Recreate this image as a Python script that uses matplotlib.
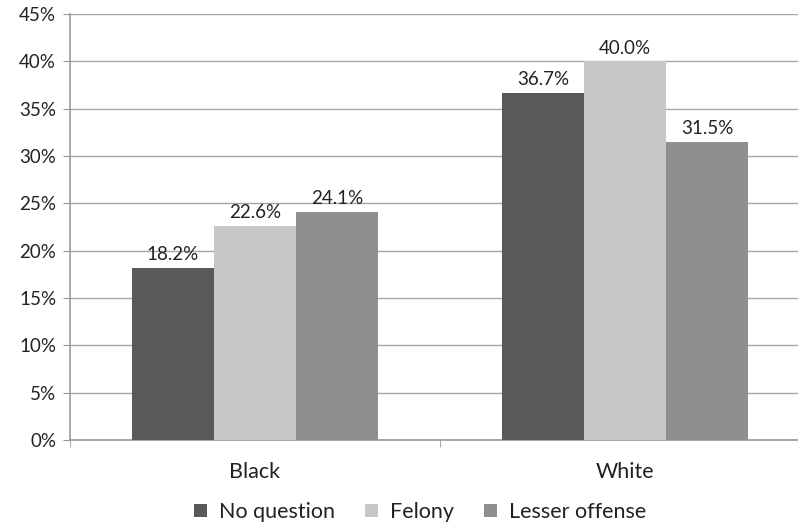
import numpy as np
import matplotlib.pyplot as plt

categories = ["Black", "White"]
series_names = ["No question", "Felony", "Lesser offense"]
no_question = [18.2, 36.7]
felony = [22.6, 40.0]
lesser_offense = [24.1, 31.5]
colors = ["#58595b", "#c6c7c8", "#8e8f91"]

plt.rcParams['font.family'] = ['Lato', 'DejaVu Sans']

fig = plt.figure(figsize=(7.98, 5.26), dpi=100)
ax = fig.add_axes([70 / 798, 1 - 440 / 526, 740 / 798, 426 / 526])

x = np.arange(len(categories))
width = 0.222
series = [no_question, felony, lesser_offense]
for i, (vals, name, col) in enumerate(zip(series, series_names, colors)):
    pos = x + (i - 1) * width
    bars = ax.bar(pos, vals, width * 0.99, color=col, label=name, zorder=3)
    for b, v in zip(bars, vals):
        ax.text(b.get_x() + b.get_width() / 2, v + 0.5, f"{v:.1f}%",
                ha='center', va='bottom', fontsize=13.5, color='#222222', zorder=4)

ax.set_xlim(-0.5, 1.5)
ax.set_ylim(0, 45)
ax.set_yticks(np.arange(0, 46, 5))
ax.set_yticklabels([f"{t}%" for t in range(0, 46, 5)], fontsize=13.5, color='#222222')
ax.set_xticks(x)
ax.set_xticklabels(categories, fontsize=15.5, color='#222222')
ax.set_xticks([-0.5, 0.5, 1.5], minor=True)
ax.tick_params(axis='x', which='major', length=0, pad=16)
ax.tick_params(axis='x', which='minor', length=5, color='#999999')
ax.tick_params(axis='y', length=5, color='#999999', pad=5)
ax.grid(axis='y', color='#a6a6a6', linewidth=1, zorder=0)
for s in ['top', 'right']:
    ax.spines[s].set_visible(False)
for s in ['left', 'bottom']:
    ax.spines[s].set_color('#999999')
    ax.spines[s].set_linewidth(1.2)

fig.legend(loc='center', bbox_to_anchor=(420 / 798, 1 - 512 / 526), ncol=3,
           frameon=False, fontsize=15.5, handlelength=0.6, handleheight=0.6,
           columnspacing=1.4, handletextpad=0.55, labelcolor='#222222')

plt.savefig("out.png", dpi=100)
